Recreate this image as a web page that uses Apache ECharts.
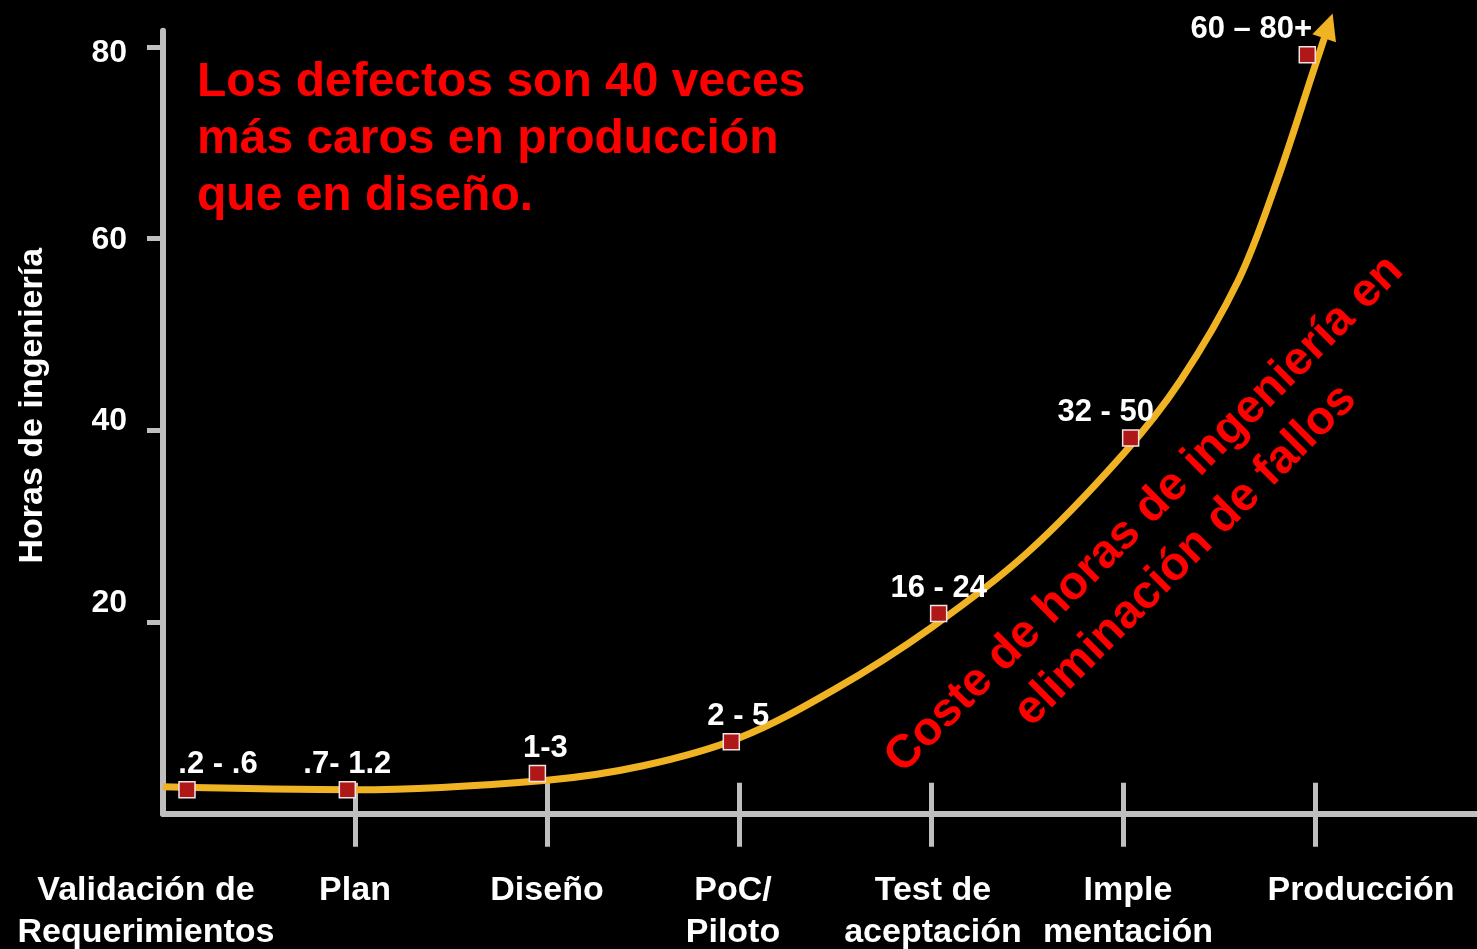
<!DOCTYPE html>
<html>
<head>
<meta charset="utf-8">
<script src="https://cdn.jsdelivr.net/npm/echarts@6/dist/echarts.min.js"></script>
<style>
html,body{margin:0;padding:0;background:#000;}
#chart{width:1477px;height:949px;}
</style>
</head>
<body>
<div id="chart"></div>
<script>
// ---- data ----
const categories = ['Validación de\nRequerimientos', 'Plan', 'Diseño', 'PoC/\nPiloto', 'Test de\naceptación', 'Imple\nmentación', 'Producción'];
const categoryPositions = [0, 1, 2, 3, 4, 5, 6];
const yTicks = [20, 40, 60, 80];
const pointX = [0.125, 0.96, 1.95, 2.96, 4.04, 5.04, 5.96];
const pointY = [2.5, 2.5, 4.2, 7.5, 20.9, 39.2, 79.2];
const pointLabels = ['.2 - .6', '.7- 1.2', '1-3', '2 - 5', '16 - 24', '32 - 50', '60 – 80+'];
const curveX = [0, 1, 2, 2.5, 3, 3.5, 4, 4.5, 5, 5.3, 5.6, 5.8, 6.0, 6.07];
const curveY = [2.8, 2.5, 3.5, 5.0, 7.9, 13.0, 19.4, 27.2, 37.5, 45.2, 55.6, 65.9, 78.0, 82.2];
const yAxisTitle = 'Horas de ingeniería';
const noteTop = 'Los defectos son 40 veces\nmás caros en producción\nque en diseño.';
const noteCurve = 'Coste de horas de ingeniería en\neliminación de fallos';

// ---- presentation ----
const FONT = "'Liberation Sans', Arial, Helvetica, sans-serif";
const GRAY = '#BFBFBF';
const ORANGE = '#F0B323';
const labelShift = [-17, 0, 0, -6, 2, 5, 46];
const pointLabelShift = [31, 0, 8, 7, 0, -25, -56];
const yLabelShift = { 20: -19, 40: -9, 60: 2, 80: 6 };

function richFor(indices) {
  const rich = {};
  indices.forEach(i => {
    const s = labelShift[i];
    rich['s' + i] = {
      color: '#fff', fontSize: 34, fontWeight: 'bold', fontFamily: FONT, lineHeight: 42,
      padding: [0, s < 0 ? -2 * s : 0, 0, s > 0 ? 2 * s : 0]
    };
  });
  return rich;
}
function catFormatter(v) {
  const i = Math.round(v);
  return categories[i].split('\n').map(l => '{s' + i + '|' + l + '}').join('\n');
}
const yRich = {};
yTicks.forEach(t => {
  const s = yLabelShift[t];
  yRich['y' + t] = {
    color: '#fff', fontSize: 32, fontWeight: 'bold', fontFamily: FONT,
    padding: [s > 0 ? 2 * s : 0, 0, s < 0 ? -2 * s : 0, 0]
  };
});

const curveData = curveX.map((x, i) => [x, curveY[i]]);
const arrowData = [curveData[curveData.length - 1]];

const pointData = pointX.map((x, i) => ({
  value: [x, pointY[i]],
  label: { offset: [pointLabelShift[i], 0] }
}));

const X_MAX = 6.844;
const Y_MAX = 81.7;
const mainCats = categoryPositions.slice(0, 6);
const lastCat = categoryPositions.slice(6);

const labelAxisBase = {
  type: 'value', min: 0, max: X_MAX, interval: 1, position: 'bottom', offset: 0,
  splitLine: { show: false }, axisLine: { show: false }, axisTick: { show: false }
};

const chart = echarts.init(document.getElementById('chart'));
chart.setOption({
  backgroundColor: '#000',
  animation: false,
  grid: { left: 163, right: 0, top: 30.7, bottom: 135.3, containLabel: false, outerBoundsMode: 'none' },
  xAxis: [
    {
      type: 'value', min: 0, max: X_MAX, interval: 1,
      splitLine: { show: false },
      axisLine: { show: true, lineStyle: { color: GRAY, width: 6 } },
      axisTick: { show: true, length: 33, inside: false, customValues: [1, 2, 3, 4, 5, 6], lineStyle: { color: GRAY, width: 5 } },
      axisLabel: {
        show: true, customValues: mainCats, margin: 56, hideOverlap: false,
        color: '#fff', fontSize: 34, fontWeight: 'bold', fontFamily: FONT, lineHeight: 42,
        formatter: catFormatter, rich: richFor(mainCats)
      }
    },
    {
      type: 'value', min: 0, max: X_MAX, interval: 1, position: 'bottom', offset: 0,
      splitLine: { show: false },
      axisLine: { show: false },
      axisTick: { show: true, length: 31, inside: true, customValues: [1, 2, 3, 4, 5, 6], lineStyle: { color: GRAY, width: 5 } },
      axisLabel: { show: false }
    },
    Object.assign({}, labelAxisBase, {
      axisLabel: {
        show: true, customValues: lastCat, margin: 56, hideOverlap: false,
        color: '#fff', fontSize: 34, fontWeight: 'bold', fontFamily: FONT, lineHeight: 42,
        formatter: catFormatter, rich: richFor(lastCat)
      }
    })
  ],
  yAxis: {
    type: 'value', min: 0, max: Y_MAX, interval: 20,
    splitLine: { show: false },
    axisLine: { show: true, lineStyle: { color: GRAY, width: 6 } },
    axisTick: { show: true, length: 16, customValues: yTicks, lineStyle: { color: GRAY, width: 5 } },
    axisLabel: {
      customValues: yTicks, margin: 36, color: '#fff', fontSize: 32, fontWeight: 'bold', fontFamily: FONT,
      formatter: v => '{y' + v + '|' + v + '}', rich: yRich
    },
    name: yAxisTitle, nameLocation: 'middle', nameGap: 113, nameRotate: 90,
    nameTextStyle: { color: '#fff', fontSize: 34, fontWeight: 'bold', fontFamily: FONT, padding: [0, 0, 0, 33] }
  },
  series: [
    {
      type: 'line', xAxisIndex: 0, data: curveData, smooth: 0.35, clip: false,
      symbol: 'none', showSymbol: false,
      lineStyle: { color: ORANGE, width: 7 },
      z: 3, silent: true
    },
    {
      type: 'scatter', xAxisIndex: 0, data: arrowData, clip: false,
      symbol: 'triangle', symbolSize: [25, 26], symbolRotate: -19, symbolKeepAspect: false,
      itemStyle: { color: ORANGE, opacity: 1 },
      z: 4, silent: true
    },
    {
      type: 'scatter', xAxisIndex: 0, data: pointData,
      symbol: 'rect', symbolSize: 16,
      itemStyle: { color: '#B01818', borderColor: '#F2E2E2', borderWidth: 1.5, opacity: 1 },
      label: {
        show: true, position: 'top', distance: 1, opacity: 1,
        color: '#FFFFFF', fontSize: 31, fontWeight: 'bold', fontFamily: FONT,
        formatter: p => pointLabels[p.dataIndex]
      },
      z: 5
    }
  ],
  graphic: [
    {
      type: 'text', left: 197, top: 54, z: 10,
      style: { text: noteTop, fill: '#FF0000', font: "bold 48px " + FONT, lineHeight: 57 }
    },
    {
      type: 'text', x: 1165, y: 535, rotation: Math.PI / 4, z: 10,
      style: { text: noteCurve, fill: '#FF0000', font: "bold 47px " + FONT, lineHeight: 58, align: 'center', verticalAlign: 'middle' }
    }
  ]
});
</script>
</body>
</html>
